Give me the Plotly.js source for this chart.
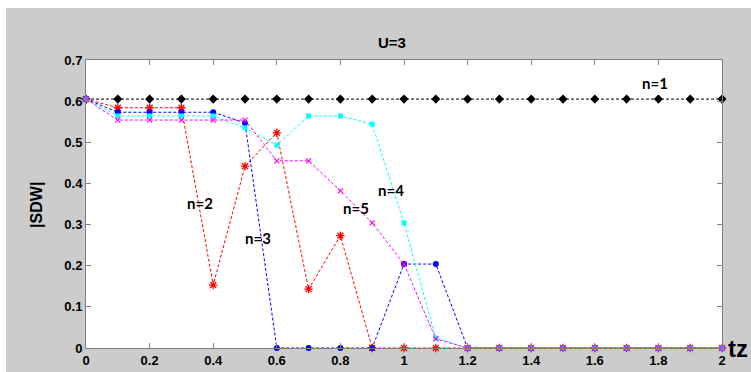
<!DOCTYPE html>
<html>
<head>
<meta charset="utf-8">
<script src="https://cdn.plot.ly/plotly-3.0.1.min.js"></script>
<style>
html,body{margin:0;padding:0;background:#ffffff;}
#chart{position:absolute;left:6px;top:8px;width:745px;height:364px;}
</style>
</head>
<body>
<div id="chart"></div>
<script>
var tz = [0,0.1,0.2,0.3,0.4,0.5,0.6,0.7,0.8,0.9,1.0,1.1,1.2,1.3,1.4,1.5,1.6,1.7,1.8,1.9,2.0];
var n1 = [0.605,0.605,0.605,0.605,0.605,0.605,0.605,0.605,0.605,0.605,0.605,0.605,0.605,0.605,0.605,0.605,0.605,0.605,0.605,0.605,0.605];
var n2 = [0.605,0.584,0.584,0.584,0.153,0.442,0.523,0.143,0.273,0,0,0,0,0,0,0,0,0,0,0,0];
var n3 = [0.605,0.573,0.573,0.573,0.573,0.547,0,0,0,0,0.204,0.204,0,0,0,0,0,0,0,0,0];
var n4 = [0.605,0.564,0.564,0.564,0.564,0.535,0.493,0.564,0.564,0.544,0.304,0.024,0,0,0,0,0,0,0,0,0];
var n5 = [0.605,0.554,0.554,0.554,0.554,0.554,0.455,0.455,0.382,0.304,0.204,0.022,0,0,0,0,0,0,0,0,0];
var seriesLabels = ["n=1","n=2","n=3","n=4","n=5"];
var labelX = [1.79,0.36,0.54,0.96,0.85];
var labelY = [0.644,0.352,0.268,0.385,0.341];

function tr(y, color, sym, size, lw){
  return {x: tz, y: y, mode: 'lines+markers', type: 'scatter',
    line: {color: color, width: 1, dash: '3px,2px'},
    marker: {symbol: sym, size: size, color: color, line: {color: color, width: lw}},
    hoverinfo: 'none', cliponaxis: false};
}
var data = [
  tr(n1, '#000000', 'diamond', 7, 0),
  tr(n2, '#ff0000', 'asterisk-open', 7, 1.3),
  tr(n3, '#0000ff', 'circle', 6, 0),
  tr(n4, '#00ffff', 'square', 5, 0),
  tr(n5, '#ff00ff', 'x-thin-open', 5, 1.2)
];

var tickFont = {family: 'Liberation Sans, Arial, sans-serif', size: 13, color: '#000', weight: 'bold'};
var ann = [];
for (var i = 0; i < seriesLabels.length; i++) {
  ann.push({x: labelX[i], y: labelY[i], xref: 'x', yref: 'y', text: '<b>' + seriesLabels[i] + '</b>',
    showarrow: false, font: {family: 'Lato, Open Sans, sans-serif', size: 15, color: '#000'}});
}
ann.push({x: 1.025, y: 0, xref: 'paper', yref: 'paper', text: '<b>tz</b>', showarrow: false,
  xanchor: 'center', yanchor: 'middle', font: {family: 'Liberation Sans, Arial, sans-serif', size: 24, color: '#000'}});
ann.push({x: -0.077, y: 0.497, xref: 'paper', yref: 'paper', text: '<b>|SDW|</b>', showarrow: false,
  textangle: -90, xanchor: 'center', yanchor: 'middle', font: {family: 'Liberation Sans, Arial, sans-serif', size: 16, color: '#000'}});
ann.push({x: 0.481, y: 1, xref: 'paper', yref: 'paper', yshift: 18, text: '<b>U=3</b>', showarrow: false,
  xanchor: 'center', yanchor: 'middle', font: {family: 'Liberation Sans, Arial, sans-serif', size: 15, color: '#000'}});

var layout = {
  width: 745, height: 364,
  margin: {l: 80, r: 29, t: 52, b: 24},
  paper_bgcolor: '#cccccc', plot_bgcolor: '#ffffff',
  showlegend: false,
  xaxis: {range: [0, 2], tick0: 0, dtick: 0.2, ticks: 'inside', ticklen: 5, tickcolor: '#808080',
    showline: true, linecolor: '#808080', linewidth: 1, mirror: 'ticks', showgrid: false, zeroline: false,
    tickfont: tickFont, ticklabelstandoff: 0, fixedrange: true},
  yaxis: {range: [0, 0.7], tick0: 0, dtick: 0.1, ticks: 'inside', ticklen: 5, tickcolor: '#808080',
    showline: true, linecolor: '#808080', linewidth: 1, mirror: 'ticks', showgrid: false, zeroline: false,
    tickfont: tickFont, fixedrange: true},
  annotations: ann
};
Plotly.newPlot('chart', data, layout, {staticPlot: true});
</script>
</body>
</html>
